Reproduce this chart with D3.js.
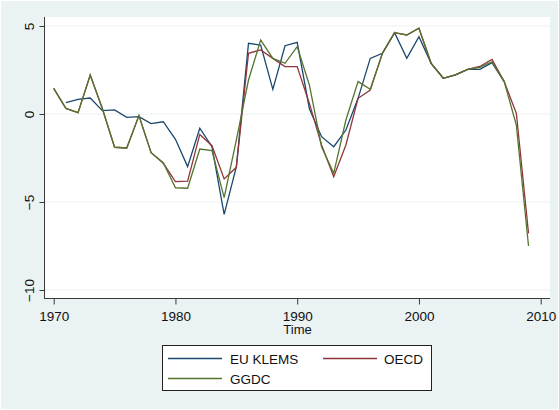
<!DOCTYPE html>
<html>
<head>
<meta charset="utf-8">
<script src="https://cdn.jsdelivr.net/npm/d3@7"></script>
<style>
  body { margin: 0; background: #fff; }
  svg { display: block; font-family: "Liberation Sans", Arial, sans-serif; }
</style>
</head>
<body>
<svg id="chart" width="559" height="410"></svg>
<script>
const years = d3.range(1970, 2010);

// EU KLEMS runs 1971-2007
const eu_klems_years = d3.range(1971, 2008);
const eu_klems = [0.64, 0.83, 0.91, 0.19, 0.23, -0.19, -0.15, -0.55, -0.44, -1.44,
    -2.99, -0.81, -1.86, -5.7, -3.0, 4.02, 3.92, 1.4, 3.88, 4.07,
    0.3, -1.29, -1.86, -0.91, 0.89, 3.16, 3.45, 4.62, 3.16, 4.39,
    2.88, 2.03, 2.22, 2.54, 2.54, 2.92, 1.84];

const oecd = [1.46, 0.32, 0.08, 2.22, 0.3, -1.89, -1.93, -0.09, -2.2, -2.8,
    -3.84, -3.81, -1.16, -1.8, -3.69, -3.03, 3.45, 3.64, 3.16, 2.69,
    2.69, 0.6, -1.76, -3.56, -1.76, 0.89, 1.36, 3.45, 4.62, 4.49,
    4.87, 2.88, 2.03, 2.22, 2.54, 2.7, 3.1, 1.84, 0.04, -6.78];

const ggdc = [1.46, 0.32, 0.08, 2.22, 0.3, -1.89, -1.93, -0.09, -2.2, -2.77,
    -4.19, -4.22, -1.99, -2.08, -4.75, -1.48, 1.93, 4.2, 3.16, 2.88,
    3.83, 1.65, -1.86, -3.37, -0.34, 1.84, 1.4, 3.45, 4.62, 4.49,
    4.87, 2.88, 2.03, 2.22, 2.54, 2.65, 2.97, 1.84, -0.63, -7.5];

const x_ticks = [1970, 1980, 1990, 2000, 2010];
const y_ticks = [-10, -5, 0, 5];

const svg = d3.select('#chart');
const width = 559, height = 410;
const bg = '#eaf2f3';

// graph region
svg.append('rect')
    .attr('x', 1).attr('y', 1)
    .attr('width', width - 2).attr('height', height - 2)
    .attr('fill', bg);

// plot region
const plot = {left: 45, right: 550, top: 17, bottom: 299};
svg.append('rect')
    .attr('x', plot.left).attr('y', plot.top)
    .attr('width', plot.right - plot.left).attr('height', plot.bottom - plot.top)
    .attr('fill', 'white');

const x = d3.scaleLinear().domain([1970, 2010]).range([53.7, 540.7]);
const y = d3.scaleLinear().domain([-10, 5]).range([290, 26]);

// grid lines
svg.append('g')
    .selectAll('line')
    .data(y_ticks)
    .join('line')
    .attr('x1', plot.left).attr('x2', plot.right)
    .attr('y1', d => y(d)).attr('y2', d => y(d))
    .attr('stroke', bg)
    .attr('stroke-width', 1.2);

// y axis
const y_axis = svg.append('g')
    .attr('transform', `translate(${plot.left - 0.5},0)`)
    .call(d3.axisLeft(y).tickValues(y_ticks).tickSize(5).tickPadding(0).tickFormat(d3.format('d')));
y_axis.select('.domain').attr('d', `M0,${plot.top}V${plot.bottom}`).attr('stroke', '#3a3a3a');
y_axis.selectAll('.tick line').attr('stroke', '#3a3a3a');
y_axis.selectAll('.tick text')
    .attr('x', null).attr('dy', null)
    .attr('text-anchor', 'middle')
    .attr('transform', 'translate(-11,0) rotate(-90)')
    .attr('font-size', 13.5)
    .attr('fill', '#111');

// x axis
const x_axis = svg.append('g')
    .attr('transform', `translate(0,${plot.bottom - 0.5})`)
    .call(d3.axisBottom(x).tickValues(x_ticks).tickSize(6).tickPadding(0).tickFormat(d3.format('d')));
x_axis.select('.domain').attr('d', `M${plot.left},0H${plot.right}`).attr('stroke', '#3a3a3a');
x_axis.selectAll('.tick line').attr('stroke', '#3a3a3a');
x_axis.selectAll('.tick text')
    .attr('dy', null).attr('y', 22)
    .attr('font-size', 13.5)
    .attr('fill', '#111');

svg.append('text')
    .text('Time')
    .attr('x', (plot.left + plot.right) / 2).attr('y', 334)
    .attr('text-anchor', 'middle')
    .attr('font-size', 13)
    .attr('fill', '#111');

// series
const series = [
    {name: 'EU KLEMS', xs: eu_klems_years, ys: eu_klems, color: '#1a476f'},
    {name: 'OECD', xs: years, ys: oecd, color: '#90353b'},
    {name: 'GGDC', xs: years, ys: ggdc, color: '#55752f'}
];

const line = d3.line().x(d => x(d[0])).y(d => y(d[1]));

svg.append('g')
    .selectAll('path')
    .data(series)
    .join('path')
    .attr('d', s => line(s.xs.map((yr, i) => [yr, s.ys[i]])))
    .attr('fill', 'none')
    .attr('stroke', s => s.color)
    .attr('stroke-width', 1.3)
    .attr('stroke-linejoin', 'miter');

// legend
const legend = svg.append('g');
legend.append('rect')
    .attr('x', 162.5).attr('y', 345.5)
    .attr('width', 269).attr('height', 45)
    .attr('fill', 'white')
    .attr('stroke', '#222')
    .attr('stroke-width', 1);

const legend_pos = [
    {lx: 168, ly: 358.5, tx: 230},
    {lx: 323, ly: 358.5, tx: 384},
    {lx: 168, ly: 378.5, tx: 230}
];

series.forEach((s, i) => {
    const p = legend_pos[i];
    legend.append('line')
        .attr('x1', p.lx).attr('x2', p.lx + 54)
        .attr('y1', p.ly).attr('y2', p.ly)
        .attr('stroke', s.color)
        .attr('stroke-width', 1.3);
    legend.append('text')
        .text(s.name)
        .attr('x', p.tx).attr('y', p.ly + 5)
        .attr('font-size', 13.5)
        .attr('fill', '#111');
});
</script>
</body>
</html>
